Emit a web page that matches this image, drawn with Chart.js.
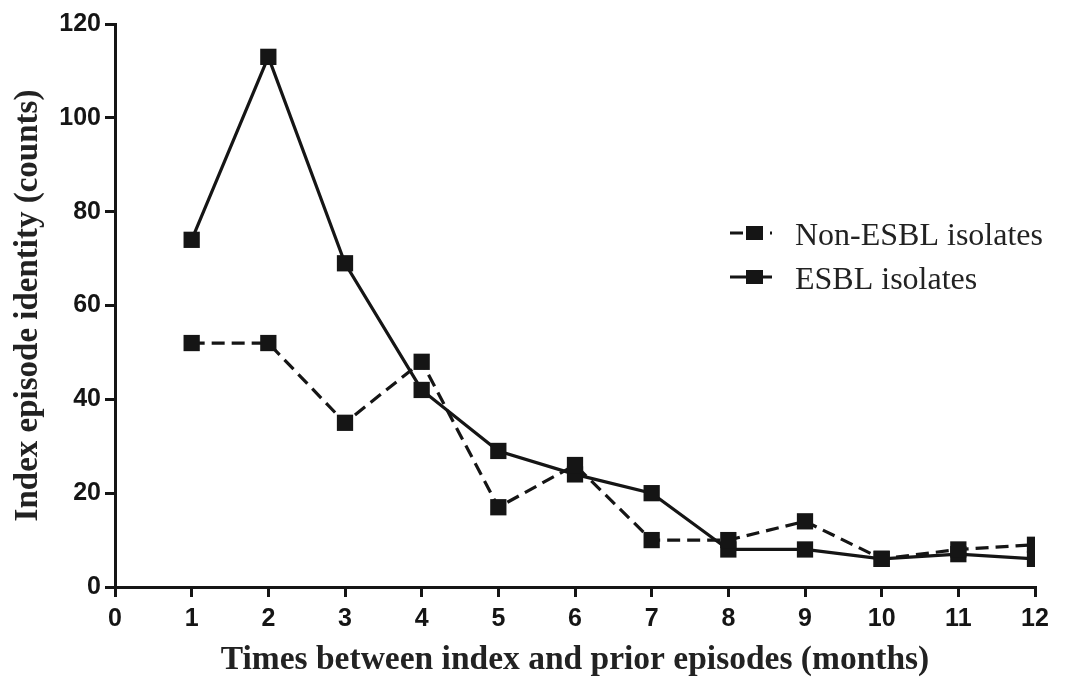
<!DOCTYPE html>
<html>
<head>
<meta charset="utf-8">
<script src="https://cdn.jsdelivr.net/npm/chart.js@4.4.1/dist/chart.umd.min.js"></script>
<style>
html, body { margin: 0; padding: 0; background: #fff; }
#wrap { width: 1066px; height: 677px; position: relative; }
</style>
</head>
<body>
<div id="wrap"><canvas id="graf"></canvas></div>
<script>
// months between index and prior episode
const months = [1, 2, 3, 4, 5, 6, 7, 8, 9, 10, 11, 12];
const nonEsbl = [52, 52, 35, 48, 17, 26, 10, 10, 14, 6, 8, 9];
const esbl = [74, 113, 69, 42, 29, 24, 20, 8, 8, 6, 7, 6];

const ink = '#151515';

const toPoints = (vals) => months.map((m, i) => ({ x: m, y: vals[i] }));

// legend drawn by hand: line + square + label, right side of the plot
const legendRows = {
  id: 'legendRows',
  afterDraw(chart) {
    const ctx = chart.ctx;
    const rowsY = [233, 277];
    chart.data.datasets.forEach((ds, i) => {
      const y = rowsY[i];
      ctx.save();
      ctx.strokeStyle = ds.borderColor;
      ctx.lineWidth = 3;
      ctx.setLineDash(ds.borderDash || []);
      ctx.beginPath();
      ctx.moveTo(730, y);
      ctx.lineTo(772, y);
      ctx.stroke();
      ctx.setLineDash([]);
      ctx.fillStyle = ds.pointBackgroundColor;
      ctx.fillRect(746, y - 7, 17, 14);
      ctx.font = '32px "Liberation Serif", "Times New Roman", serif';
      ctx.textBaseline = 'middle';
      ctx.fillStyle = '#222';
      ctx.fillText(ds.label, 795, y + 4);
      ctx.restore();
    });
  }
};

const data = {
  datasets: [
    {
      label: 'Non-ESBL isolates',
      data: toPoints(nonEsbl),
      borderColor: ink,
      borderWidth: 3.2,
      borderDash: [13, 7],
      pointStyle: 'rect',
      pointRadius: 11.5,
      pointBackgroundColor: ink,
      pointBorderWidth: 0,
      tension: 0
    },
    {
      label: 'ESBL isolates',
      data: toPoints(esbl),
      borderColor: ink,
      borderWidth: 3.2,
      pointStyle: 'rect',
      pointRadius: 11.5,
      pointBackgroundColor: ink,
      pointBorderWidth: 0,
      tension: 0
    }
  ]
};

const tickFont = { family: '"Liberation Sans", Arial, sans-serif', size: 25, weight: 'bold' };
const serif = '"Liberation Serif", "Times New Roman", serif';

const config = {
  type: 'line',
  data: data,
  options: {
    responsive: true,
    maintainAspectRatio: false,
    devicePixelRatio: 1,
    animation: false,
    layout: { padding: { left: 0, top: 24, right: 31, bottom: 0 } },
    plugins: {
      legend: { display: false },
      tooltip: { enabled: false }
    },
    scales: {
      x: {
        type: 'linear',
        min: 0,
        max: 12,
        afterFit(scale) { scale.height = 90; },
        ticks: { stepSize: 1, color: ink, font: tickFont, padding: 7, maxRotation: 0 },
        grid: { display: true, drawOnChartArea: false, drawTicks: true, tickLength: 10, color: ink, lineWidth: 3 },
        border: { display: true, color: ink, width: 3 },
        title: {
          display: true,
          text: 'Times between index and prior episodes (months)',
          color: '#222',
          font: { family: serif, size: 33.5, weight: 'bold', lineHeight: 1 },
          padding: { top: 0.5, bottom: 0 }
        }
      },
      y: {
        min: 0,
        max: 120,
        afterFit(scale) { scale.width = 115; },
        ticks: { stepSize: 20, color: ink, font: tickFont, padding: 4 },
        grid: { display: true, drawOnChartArea: false, drawTicks: true, tickLength: 10, color: ink, lineWidth: 3 },
        border: { display: true, color: ink, width: 3 },
        title: {
          display: true,
          text: 'Index episode identity (counts)',
          color: '#222',
          font: { family: serif, size: 33, weight: 'bold', lineHeight: 1 },
          padding: { top: 11.5, bottom: 0 }
        }
      }
    }
  },
  plugins: [legendRows]
};

// draw it
const graf = document.getElementById('graf').getContext('2d');
new Chart(graf, config);
</script>
</body>
</html>
